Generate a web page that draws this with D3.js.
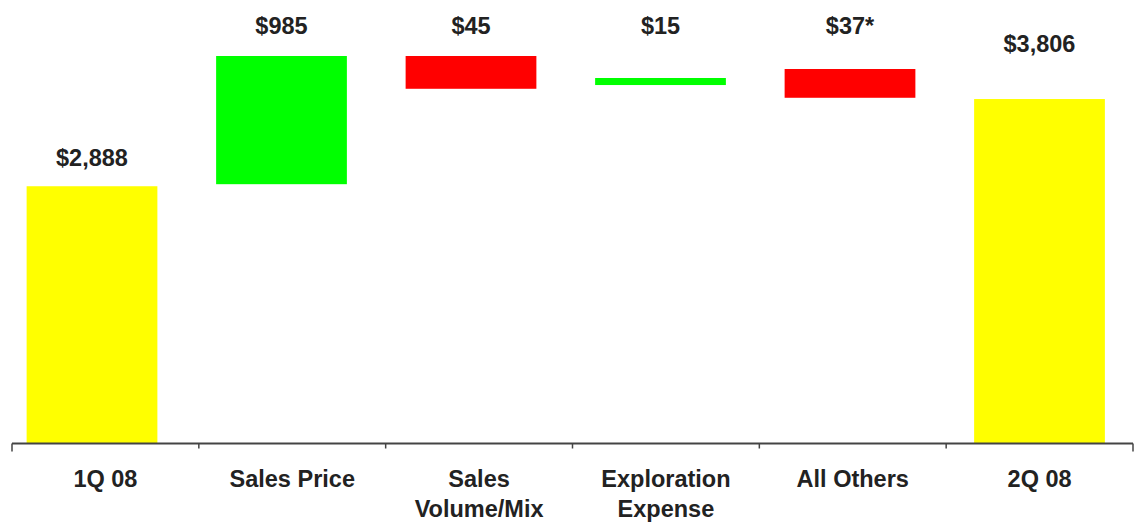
<!DOCTYPE html>
<html><head><meta charset="utf-8">
<script src="https://cdn.jsdelivr.net/npm/d3@7"></script>
<style>html,body{margin:0;padding:0;background:#fff;}svg{display:block;}</style>
</head><body>
<svg id="chart" width="1136" height="530"></svg>
<script>
// ---- data ----
const categories = ["1Q 08", "Sales Price", "Sales Volume/Mix", "Exploration Expense", "All Others", "2Q 08"];
const categoryLines = [["1Q 08"], ["Sales Price"], ["Sales", "Volume/Mix"], ["Exploration", "Expense"], ["All Others"], ["2Q 08"]];
const values = [2888, 985, -45, 15, -37, 3806];
const valueLabels = ["$2,888", "$985", "$45", "$15", "$37*", "$3,806"];
const barKind = ["total", "up", "down", "up", "down", "total"];
// bar extents as drawn on the slide (in the slide's implicit value units)
const drawnLow  = [0, 2911, 3982, 4024, 3881, 0];
const drawnHigh = [2888, 4350, 4350, 4103, 4204, 3867];

// ---- layout ----
const svg = d3.select("#chart");
const baseY = 443.5;
const y = d3.scaleLinear().domain([0, 4350]).range([baseY, 56]);
const xAxisScale = d3.scaleBand().domain(categories).range([12, 1133]).padding(0);
const xBar = d3.scaleBand().domain(categories).range([-2.75, 1134.25]).paddingInner(0.31).paddingOuter(0.155);
const colors = { total: "#ffff00", up: "#00ff00", down: "#ff0000" };
const font = "'Liberation Sans', Arial, Helvetica, sans-serif";
const textColor = "#222";

const rows = categories.map((c, i) => ({ c, i, lo: drawnLow[i], hi: drawnHigh[i], kind: barKind[i], label: valueLabels[i], v: values[i] }));

// bars
svg.append("g").selectAll("rect").data(rows).join("rect")
  .attr("x", d => xBar(d.c))
  .attr("width", xBar.bandwidth())
  .attr("y", d => y(d.hi))
  .attr("height", d => y(d.lo) - y(d.hi))
  .attr("fill", d => colors[d.kind]);

// value labels
svg.append("g").selectAll("text").data(rows).join("text")
  .attr("x", d => xBar(d.c) + xBar.bandwidth() / 2)
  .attr("y", d => d.i === 0 ? y(d.hi) - 20 : (d.i === rows.length - 1 ? 52 : 34))
  .attr("text-anchor", "middle")
  .attr("font-family", font)
  .attr("font-weight", "bold")
  .attr("font-size", "23.5px")
  .attr("fill", textColor)
  .text(d => d.label);

// x axis
const axis = d3.axisBottom(xAxisScale).tickSize(0).tickFormat("");
const gAxis = svg.append("g").attr("transform", `translate(0,${baseY})`).call(axis);
gAxis.select(".domain").remove();
gAxis.append("line").attr("x1", 12).attr("x2", 1133).attr("y1", 0).attr("y2", 0)
  .attr("stroke", "#444").attr("stroke-width", 2);
const boundaries = d3.range(categories.length + 1).map(k => 12 + k * xAxisScale.step());
gAxis.selectAll("line.bt").data(boundaries).join("line").attr("class", "bt")
  .attr("x1", d => d).attr("x2", d => d)
  .attr("y1", 0).attr("y2", (d, k) => (k === 0 || k === categories.length) ? 8 : 5)
  .attr("stroke", "#444").attr("stroke-width", 1.5);

// category labels
const catG = gAxis.selectAll("text.cat").data(rows).join("text").attr("class", "cat")
  .attr("x", d => xAxisScale(d.c) + xAxisScale.bandwidth() / 2)
  .attr("y", 43.5)
  .attr("text-anchor", "middle")
  .attr("font-family", font)
  .attr("font-weight", "bold")
  .attr("font-size", "23.5px")
  .attr("fill", textColor);
catG.selectAll("tspan").data(d => categoryLines[d.i].map(t => ({ t, x: xAxisScale(d.c) + xAxisScale.bandwidth() / 2 })))
  .join("tspan")
  .attr("x", t => t.x)
  .attr("dy", (t, k) => k === 0 ? 0 : 30)
  .text(t => t.t);
</script>
</body></html>
